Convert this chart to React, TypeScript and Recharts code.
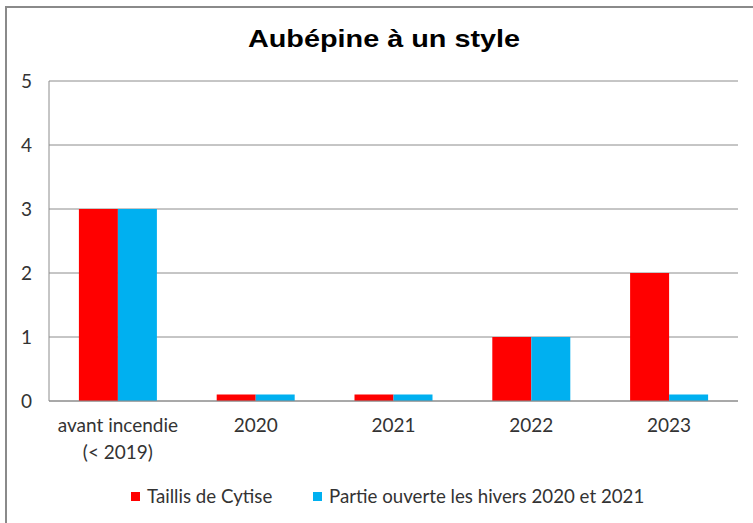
import React from 'react';
import { BarChart, Bar, XAxis, YAxis, CartesianGrid } from 'recharts';

const categories = ['avant incendie\n(< 2019)', '2020', '2021', '2022', '2023'];
const taillis = [3, 0.1, 0.1, 1, 2];
const partie = [3, 0.1, 0.1, 1, 0.1];
const yTicks = [0, 1, 2, 3, 4, 5];
const seriesNames = ['Taillis de Cytise', 'Partie ouverte les hivers 2020 et 2021'];
const seriesColors = ['#FF0000', '#00B0F0'];
const title = 'Aubépine à un style';

const data = categories.map((c, i) => ({ cat: c, taillis: taillis[i], partie: partie[i] }));

const FONT = 'Lato, "Noto Sans", sans-serif';
const legendLeft = [131, 313];

const XTick = (props: any) => {
  const { x, y, payload } = props;
  const lines = String(payload.value).split('\n');
  return (
    <text x={x} y={y} textAnchor="middle" fill="#333" fontSize={19} fontFamily={FONT}>
      {lines.map((l, i) => (
        <tspan key={i} x={x} dy={i === 0 ? 23 : 27}>{l}</tspan>
      ))}
    </text>
  );
};

export default function App() {
  return (
    <div style={{ position: 'fixed', left: 0, top: 0, width: 753, height: 523, background: '#fff', overflow: 'hidden' }}>
      <div style={{ position: 'absolute', left: 5, top: 6, width: 800, height: 600, borderLeft: '2px solid #8a8a8a', borderTop: '2px solid #8a8a8a' }} />
      <div style={{ position: 'absolute', left: 0, top: 25, width: 768, textAlign: 'center', fontFamily: '"Liberation Sans", Arial, sans-serif', fontWeight: 'bold', fontSize: 24, color: '#000', lineHeight: 'normal', transform: 'scaleX(1.2)', transformOrigin: '384px 0' }}>{title}</div>
      <div style={{ position: 'absolute', left: 0, top: 0 }}>
        <BarChart width={753} height={523} data={data} margin={{ top: 81, right: 15, bottom: 62, left: 9 }} barCategoryGap="21.7%" barGap={0}>
          <CartesianGrid vertical={false} stroke="#8c8c8c" strokeWidth={1} />
          <XAxis dataKey="cat" height={60} tickLine={false} axisLine={{ stroke: '#8c8c8c' }} tick={<XTick />} interval={0} />
          <YAxis domain={[0, 5]} ticks={yTicks} width={40} tickLine={false} axisLine={{ stroke: '#8c8c8c' }} tick={{ fill: '#333', fontSize: 19, fontFamily: FONT, dx: -9 }} />
          <Bar dataKey="taillis" fill={seriesColors[0]} isAnimationActive={false} />
          <Bar dataKey="partie" fill={seriesColors[1]} isAnimationActive={false} />
        </BarChart>
      </div>
      {seriesNames.map((n, i) => (
        <div key={i} style={{ position: 'absolute', left: legendLeft[i], top: 484, height: 24, display: 'flex', alignItems: 'center', fontFamily: FONT, fontSize: 18.7, color: '#333', whiteSpace: 'nowrap' }}>
          <span style={{ display: 'inline-block', width: 9, height: 9, background: seriesColors[i], marginRight: 7 }} />
          <span>{n}</span>
        </div>
      ))}
    </div>
  );
}
